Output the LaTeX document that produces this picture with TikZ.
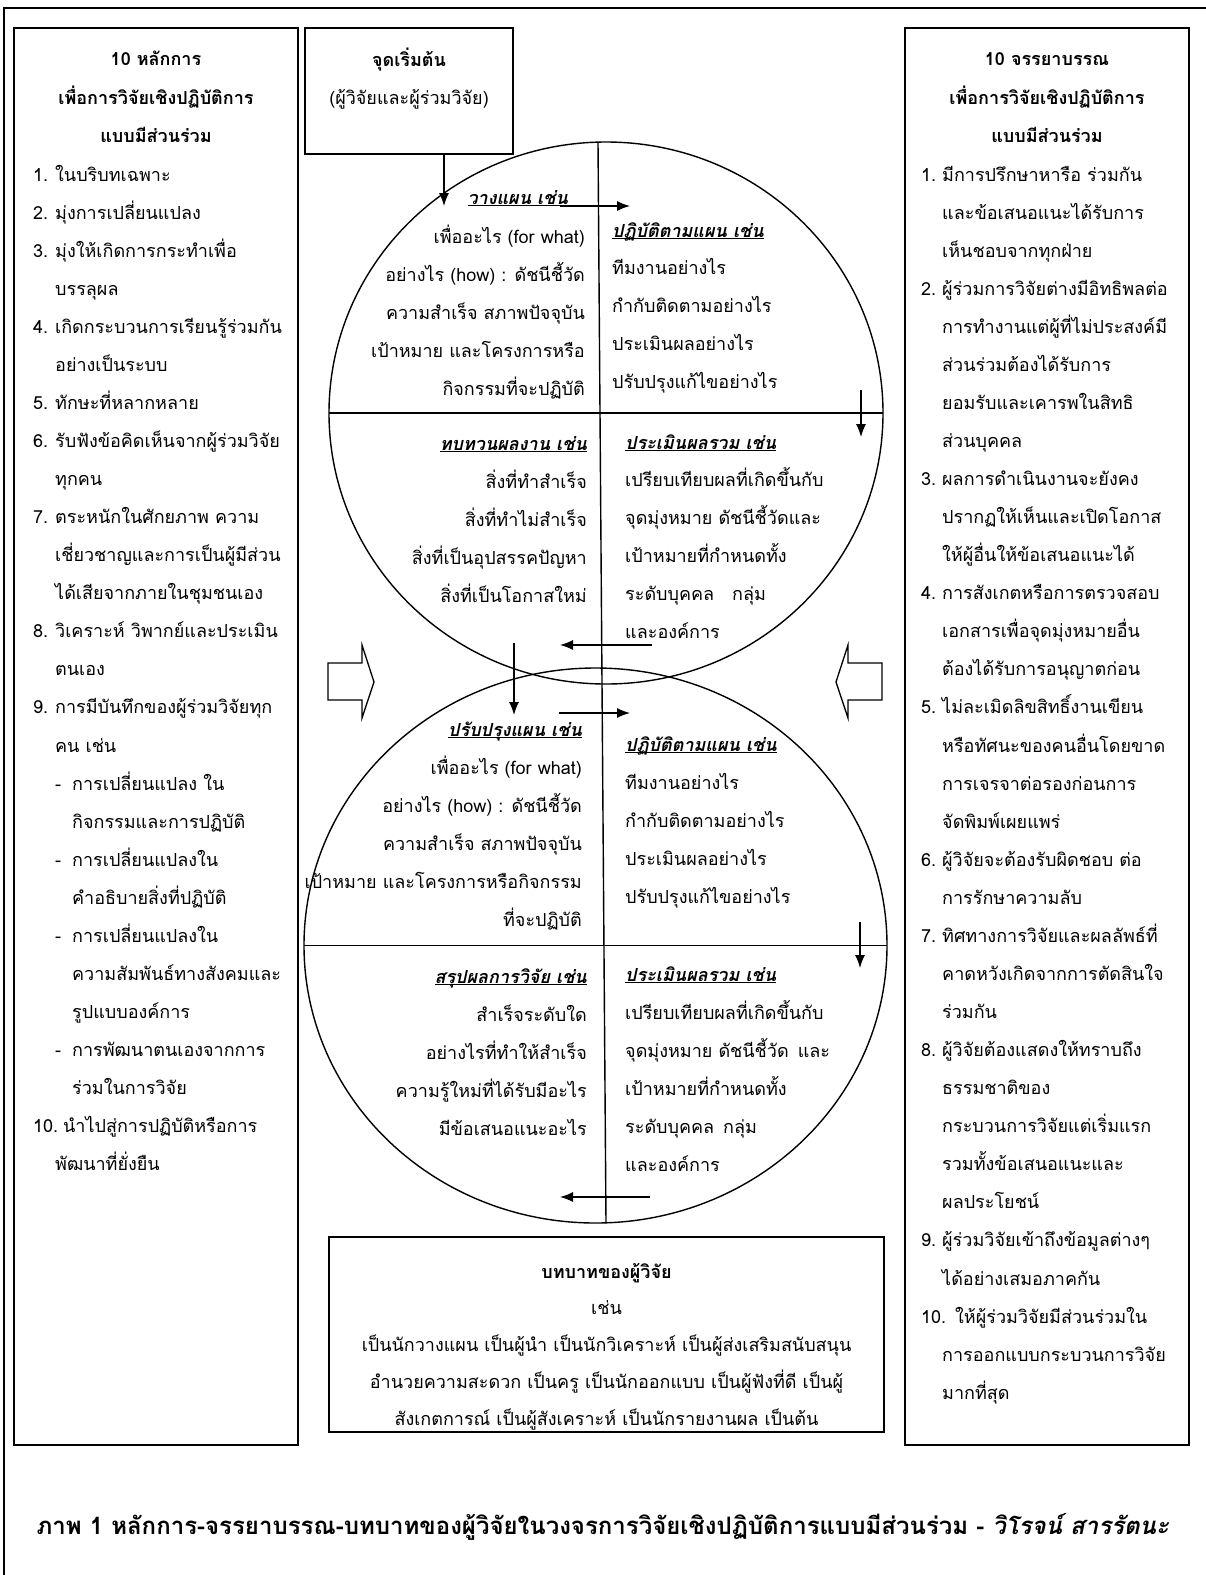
\documentclass[tikz,border=0pt]{standalone}
\usepackage{fontspec}
\setmainfont{Loma}[Script=Thai]
\usetikzlibrary{arrows.meta,shapes.geometric}

\newcommand{\numcol}[2][22pt]{\makebox[#1][l]{#2}}
\newcommand{\contcol}[1][22pt]{\hspace*{#1}}
\newcommand{\headul}[1]{\textbf{\textit{\underline{\smash{#1}}}}}

\tikzset{
  box/.style={draw, line width=1.7pt, inner sep=0pt, outer sep=0pt},
  loop/.style={draw, ellipse, line width=1.4pt, inner sep=0pt, outer sep=0pt},
  txt/.style={inner sep=0pt, anchor=base west, font=\fontsize{18}{22}\selectfont},
  txtr/.style={txt, anchor=base east},
  txtc/.style={txt, anchor=base},
  flow/.style={-{Latex[length=13pt,width=10pt]}, line width=1.3pt},
  hollow/.style={draw, line width=1.3pt},
}

\begin{document}
\begin{tikzpicture}[x=1pt,y=-1pt]
\useasboundingbox (0,0) rectangle (1206,1575);
% outer frame
\draw[line width=2pt] (1206,8) -- (4,8) -- (4,1575);

% boxes
\node[box, minimum width=284pt, minimum height=1417pt] (lbox) at (156,736.5) {};
\node[box, minimum width=208pt, minimum height=126pt] (start) at (409,91) {};
\node[box, minimum width=284pt, minimum height=1417pt] (rbox) at (1047,736.5) {};
\node[box, minimum width=555pt, minimum height=195pt] (role) at (606.5,1334.5) {};

% the two cycles
\node[loop, minimum width=554pt, minimum height=542pt] (c1) at (606,413) {};
\node[loop, minimum width=583pt, minimum height=555pt] (c2) at (595.5,945.5) {};
\draw[line width=1.4pt] (c1.west) -- (c1.east);
\draw[line width=1.4pt] (c2.west) -- (c2.east);
\coordinate (vtop) at (598,142);
\coordinate (vbot) at (606,1223);
\draw[line width=1.4pt] (vtop) -- (vbot);

% flow arrows
\coordinate (a1) at (444,206);
\coordinate (a2s) at (560,206);  \coordinate (a2e) at (630,206);
\coordinate (a3s) at (861,390);  \coordinate (a3e) at (861,437);
\coordinate (a4s) at (652,645);  \coordinate (a4e) at (560,645);
\coordinate (a5s) at (514,643);  \coordinate (a5e) at (514,715);
\coordinate (a6s) at (559,713);  \coordinate (a6e) at (630,713);
\coordinate (a7s) at (860,922);  \coordinate (a7e) at (860,968);
\coordinate (a8s) at (650,1197); \coordinate (a8e) at (560,1197);
\draw[flow] (start.south -| a1) -- (a1);
\draw[flow] (a2s) -- (a2e);
\draw[flow] (a3s) -- (a3e);
\draw[flow] (a4s) -- (a4e);
\draw[flow] (a5s) -- (a5e);
\draw[flow] (a6s) -- (a6e);
\draw[flow] (a7s) -- (a7e);
\draw[flow] (a8s) -- (a8e);

% hollow arrows
\draw[hollow] (328,663) -- (362,663) -- (362,645) -- (374,682) -- (362,718) -- (362,700) -- (328,700) -- cycle;
\draw[hollow] (882,663) -- (848,663) -- (848,645) -- (836,682) -- (848,718) -- (848,700) -- (882,700) -- cycle;

% left column
\node[txtc] (lh1) at (156,65) {\textbf{10 หลักการ}};
\node[txtc] (lh2) at (156,104) {\textbf{เพื่อการวิจัยเชิงปฏิบัติการ}};
\node[txtc] (lh3) at (156,142) {\textbf{แบบมีส่วนร่วม}};
\foreach \t [count=\i from 0] in {
  {\numcol{1.}ในบริบทเฉพาะ},
  {\numcol{2.}มุ่งการเปลี่ยนแปลง},
  {\numcol{3.}มุ่งให้เกิดการกระทำเพื่อ},
  {\contcol บรรลุผล},
  {\numcol{4.}เกิดกระบวนการเรียนรู้ร่วมกัน},
  {\contcol อย่างเป็นระบบ},
  {\numcol{5.}ทักษะที่หลากหลาย},
  {\numcol{6.}รับฟังข้อคิดเห็นจากผู้ร่วมวิจัย},
  {\contcol ทุกคน},
  {\numcol{7.}ตระหนักในศักยภาพ ความ},
  {\contcol เชี่ยวชาญและการเป็นผู้มีส่วน},
  {\contcol ได้เสียจากภายในชุมชนเอง},
  {\numcol{8.}วิเคราะห์ วิพากย์และประเมิน},
  {\contcol ตนเอง},
  {\numcol{9.}การมีบันทึกของผู้ร่วมวิจัยทุก},
  {\contcol คน เช่น},
  {\contcol\numcol[17pt]{-}การเปลี่ยนแปลง ใน},
  {\contcol[39pt]กิจกรรมและการปฏิบัติ},
  {\contcol\numcol[17pt]{-}การเปลี่ยนแปลงใน},
  {\contcol[39pt]คำอธิบายสิ่งที่ปฏิบัติ},
  {\contcol\numcol[17pt]{-}การเปลี่ยนแปลงใน},
  {\contcol[39pt]ความสัมพันธ์ทางสังคมและ},
  {\contcol[39pt]รูปแบบองค์การ},
  {\contcol\numcol[17pt]{-}การพัฒนาตนเองจากการ},
  {\contcol[39pt]ร่วมในการวิจัย},
  {\numcol[30pt]{10.}นำไปสู่การปฏิบัติหรือการ},
  {\contcol พัฒนาที่ยั่งยืน}}
  \node[txt] (l\i) at (33,{181+38.07*\i}) {\t};

% right column
\node[txtc] (rh1) at (1047,65) {\textbf{10 จรรยาบรรณ}};
\node[txtc] (rh2) at (1047,104) {\textbf{เพื่อการวิจัยเชิงปฏิบัติการ}};
\node[txtc] (rh3) at (1047,142) {\textbf{แบบมีส่วนร่วม}};
\foreach \t [count=\i from 0] in {
  {\numcol[21pt]{1.}มีการปรึกษาหารือ ร่วมกัน},
  {\contcol[21pt]และข้อเสนอแนะได้รับการ},
  {\contcol[21pt]เห็นชอบจากทุกฝ่าย},
  {\numcol[21pt]{2.}ผู้ร่วมการวิจัยต่างมีอิทธิพลต่อ},
  {\contcol[21pt]การทำงานแต่ผู้ที่ไม่ประสงค์มี},
  {\contcol[21pt]ส่วนร่วมต้องได้รับการ},
  {\contcol[21pt]ยอมรับและเคารพในสิทธิ},
  {\contcol[21pt]ส่วนบุคคล},
  {\numcol[21pt]{3.}ผลการดำเนินงานจะยังคง},
  {\contcol[21pt]ปรากฏให้เห็นและเปิดโอกาส},
  {\contcol[21pt]ให้ผู้อื่นให้ข้อเสนอแนะได้},
  {\numcol[21pt]{4.}การสังเกตหรือการตรวจสอบ},
  {\contcol[21pt]เอกสารเพื่อจุดมุ่งหมายอื่น},
  {\contcol[21pt]ต้องได้รับการอนุญาตก่อน},
  {\numcol[21pt]{5.}ไม่ละเมิดลิขสิทธิ์งานเขียน},
  {\contcol[21pt]หรือทัศนะของคนอื่นโดยขาด},
  {\contcol[21pt]การเจรจาต่อรองก่อนการ},
  {\contcol[21pt]จัดพิมพ์เผยแพร่},
  {\numcol[21pt]{6.}ผู้วิจัยจะต้องรับผิดชอบ ต่อ},
  {\contcol[21pt]การรักษาความลับ},
  {\numcol[21pt]{7.}ทิศทางการวิจัยและผลลัพธ์ที่},
  {\contcol[21pt]คาดหวังเกิดจากการตัดสินใจ},
  {\contcol[21pt]ร่วมกัน},
  {\numcol[21pt]{8.}ผู้วิจัยต้องแสดงให้ทราบถึง},
  {\contcol[21pt]ธรรมชาติของ},
  {\contcol[21pt]กระบวนการวิจัยแต่เริ่มแรก},
  {\contcol[21pt]รวมทั้งข้อเสนอแนะและ},
  {\contcol[21pt]ผลประโยชน์},
  {\numcol[21pt]{9.}ผู้ร่วมวิจัยเข้าถึงข้อมูลต่างๆ},
  {\contcol[21pt]ได้อย่างเสมอภาคกัน},
  {\numcol[34pt]{10.}ให้ผู้ร่วมวิจัยมีส่วนร่วมใน},
  {\contcol[21pt]การออกแบบกระบวนการวิจัย},
  {\contcol[21pt]มากที่สุด}}
  \node[txt] (r\i) at (921,{181+38.07*\i}) {\t};

% starting point
\node[txtc] (st1) at (409,66) {\textbf{จุดเริ่มต้น}};
\node[txtc] (st2) at (409,104) {(ผู้วิจัยและผู้ร่วมวิจัย)};

% upper cycle
\node[txtr] (planh) at (568,204) {\headul{วางแผน เช่น}};
\foreach \t [count=\i from 0] in {เพื่ออะไร (for what), อย่างไร (how) : ดัชนีชี้วัด,
  ความสำเร็จ สภาพปัจจุบัน, เป้าหมาย และโครงการหรือ, กิจกรรมที่จะปฏิบัติ}
  \node[txtr] (plan\i) at (585,{243+38*\i}) {\t};
\node[txt] (acth) at (612,237) {\headul{ปฏิบัติตามแผน เช่น}};
\foreach \t [count=\i from 0] in {ทีมงานอย่างไร, กำกับติดตามอย่างไร, ประเมินผลอย่างไร, ปรับปรุงแก้ไขอย่างไร}
  \node[txt] (act\i) at (612,{274+38*\i}) {\t};
\node[txtr] (revh) at (587,450) {\headul{ทบทวนผลงาน เช่น}};
\foreach \t [count=\i from 0] in {สิ่งที่ทำสำเร็จ, สิ่งที่ทำไม่สำเร็จ, สิ่งที่เป็นอุปสรรคปัญหา, สิ่งที่เป็นโอกาสใหม่}
  \node[txtr] (rev\i) at (587,{488+38*\i}) {\t};
\node[txt] (evah) at (625,449) {\headul{ประเมินผลรวม เช่น}};
\foreach \t [count=\i from 0] in {เปรียบเทียบผลที่เกิดขึ้นกับ, จุดมุ่งหมาย ดัชนีชี้วัดและ,
  เป้าหมายที่กำหนดทั้ง, ระดับบุคคล\quad กลุ่ม, และองค์การ}
  \node[txt] (eva\i) at (625,{486+38*\i}) {\t};

% lower cycle
\node[txtr] (replh) at (582,736) {\headul{ปรับปรุงแผน เช่น}};
\foreach \t [count=\i from 0] in {เพื่ออะไร (for what), อย่างไร (how) : ดัชนีชี้วัด,
  ความสำเร็จ สภาพปัจจุบัน, เป้าหมาย และโครงการหรือกิจกรรม, ที่จะปฏิบัติ}
  \node[txtr] (repl\i) at (582,{774+38*\i}) {\t};
\node[txt] (reacth) at (625,751) {\headul{ปฏิบัติตามแผน เช่น}};
\foreach \t [count=\i from 0] in {ทีมงานอย่างไร, กำกับติดตามอย่างไร, ประเมินผลอย่างไร, ปรับปรุงแก้ไขอย่างไร}
  \node[txt] (react\i) at (625,{789+38*\i}) {\t};
\node[txtr] (sumh) at (587,983) {\headul{สรุปผลการวิจัย เช่น}};
\foreach \t [count=\i from 0] in {สำเร็จระดับใด, อย่างไรที่ทำให้สำเร็จ, ความรู้ใหม่ที่ได้รับมีอะไร, มีข้อเสนอแนะอะไร}
  \node[txtr] (sum\i) at (587,{1021+38*\i}) {\t};
\node[txt] (reevah) at (625,981) {\headul{ประเมินผลรวม เช่น}};
\foreach \t [count=\i from 0] in {เปรียบเทียบผลที่เกิดขึ้นกับ, จุดมุ่งหมาย ดัชนีชี้วัด\enspace และ,
  เป้าหมายที่กำหนดทั้ง, ระดับบุคคล\enspace กลุ่ม, และองค์การ}
  \node[txt] (reeva\i) at (625,{1019+38*\i}) {\t};

% role of the researcher
\node[txtc] (roleh) at (606.5,1278) {\textbf{บทบาทของผู้วิจัย}};
\node[txtc] (role1) at (606.5,1314) {เช่น};
\node[txtc] (role2) at (606.5,1351) {เป็นนักวางแผน เป็นผู้นำ เป็นนักวิเคราะห์ เป็นผู้ส่งเสริมสนับสนุน};
\node[txtc] (role3) at (606.5,1388) {อำนวยความสะดวก เป็นครู เป็นนักออกแบบ เป็นผู้ฟังที่ดี เป็นผู้};
\node[txtc] (role4) at (606.5,1425) {สังเกตการณ์ เป็นผู้สังเคราะห์ เป็นนักรายงานผล เป็นต้น};

% caption
\node[txtc, font=\fontsize{24}{28}\selectfont\bfseries] (cap) at (603,1534)
  {ภาพ 1 หลักการ-จรรยาบรรณ-บทบาทของผู้วิจัยในวงจรการวิจัยเชิงปฏิบัติการแบบมีส่วนร่วม - \textit{วิโรจน์ สารรัตนะ}};
\end{tikzpicture}
\end{document}
